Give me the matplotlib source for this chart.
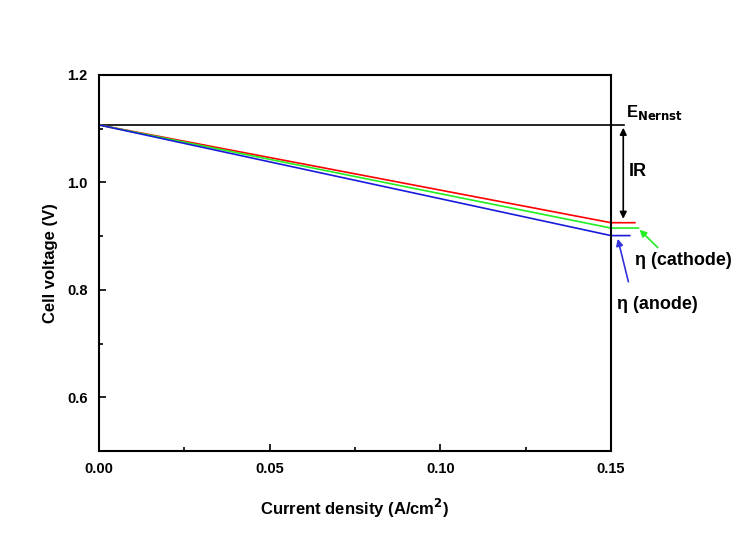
import numpy as np
import matplotlib
matplotlib.use('Agg')
import matplotlib.pyplot as plt
from matplotlib.ticker import MultipleLocator, FormatStrFormatter

# current density (A/cm2) and cell voltages (V)
current = [0.0, 0.15, 0.157]
v_ir = [1.107, 0.925, 0.925]       # red: after IR loss
v_cathode = [1.107, 0.915, 0.915]  # green: cathode overpotential
v_anode = [1.107, 0.901, 0.901]    # blue: anode overpotential
e_nernst = 1.107

plt.rcParams['font.family'] = ['Liberation Sans', 'DejaVu Sans']
plt.rcParams['font.weight'] = 'bold'

fig = plt.figure(figsize=(7.47, 5.58), dpi=100)
ax = fig.add_axes([0.1325, 0.1918, 0.6854, 0.6738])

ax.plot([0, 0.1537], [e_nernst, e_nernst], color='black', lw=1.2, clip_on=False)
ax.plot(current, v_ir, color='red', lw=1.2, clip_on=False)
ax.plot([0, 0.15, 0.158], v_cathode, color='#22ee22', lw=1.2, clip_on=False)
ax.plot([0, 0.15, 0.1555], v_anode, color='#1a1adb', lw=1.2, clip_on=False)

ax.set_xlim(0, 0.15)
ax.set_ylim(0.5, 1.2)
ax.xaxis.set_major_locator(MultipleLocator(0.05))
ax.xaxis.set_minor_locator(MultipleLocator(0.025))
ax.yaxis.set_major_locator(MultipleLocator(0.2))
ax.yaxis.set_minor_locator(MultipleLocator(0.1))
ax.xaxis.set_major_formatter(FormatStrFormatter('%.2f'))
ax.yaxis.set_major_formatter(FormatStrFormatter('%.1f'))
ax.tick_params(which='both', direction='in', width=1.2, labelsize=10.5, pad=8)
ax.tick_params(which='major', length=5)
ax.tick_params(which='minor', length=3)
for s in ax.spines.values():
    s.set_linewidth(1.5)

ax.set_xlabel('Current density (A/cm$^{\\mathbf{2}}$)', fontsize=12, fontweight='bold', labelpad=15)
ax.set_ylabel('Cell voltage (V)', fontsize=12, fontweight='bold', labelpad=7)

# annotations
ax.annotate('', xy=(0.1536, 0.927), xytext=(0.1536, e_nernst),
            arrowprops=dict(arrowstyle='<|-|>', color='black', lw=1.2, mutation_scale=10),
            annotation_clip=False)
ax.text(0.1544, 1.113, 'E$_{\\mathbf{Nernst}}$', fontsize=12, fontweight='bold', va='bottom')
ax.text(0.1553, 1.02, 'IR', fontsize=13, fontweight='bold', va='center')

ax.annotate('', xy=(0.1578, 0.9155), xytext=(0.1643, 0.875),
            arrowprops=dict(arrowstyle='-|>', color='#22ee22', lw=1.2, mutation_scale=10),
            annotation_clip=False)
ax.text(0.1571, 0.855, 'η (cathode)', fontsize=13, fontweight='bold', va='center')

ax.annotate('', xy=(0.1518, 0.9), xytext=(0.1553, 0.81),
            arrowprops=dict(arrowstyle='-|>', color='#3333dd', lw=1.2, mutation_scale=10),
            annotation_clip=False)
ax.text(0.1517, 0.772, 'η (anode)', fontsize=13, fontweight='bold', va='center')

fig.savefig('out.png', dpi=100)
